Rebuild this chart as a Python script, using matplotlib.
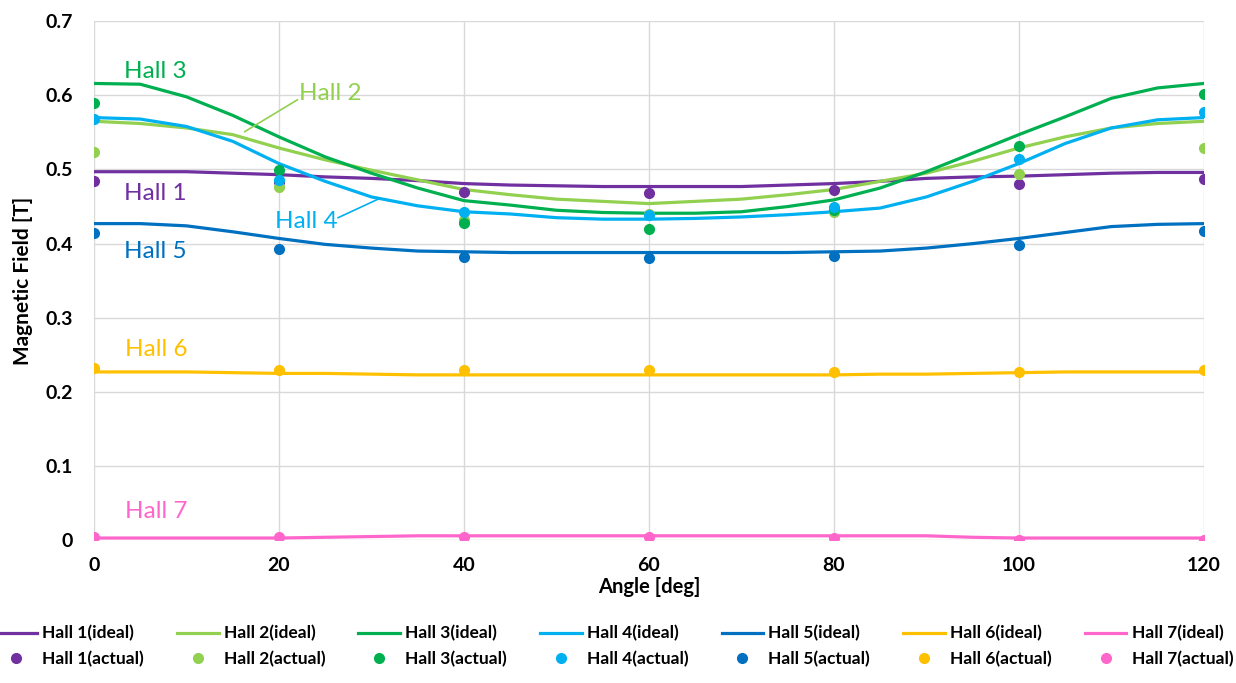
import numpy as np
import matplotlib.pyplot as plt

plt.rcParams['font.family'] = ['Lato', 'DejaVu Sans']

# Angle grids
angle_ideal = [0, 5, 10, 15, 20, 25, 30, 35, 40, 45, 50, 55, 60,
               65, 70, 75, 80, 85, 90, 95, 100, 105, 110, 115, 120]
angle_actual = [0, 20, 40, 60, 80, 100, 120]

# Ideal curves
hall1_ideal = [0.497, 0.497, 0.497, 0.495, 0.493, 0.490, 0.488, 0.485, 0.481, 0.479, 0.478, 0.477, 0.477,
               0.477, 0.477, 0.479, 0.481, 0.484, 0.488, 0.490, 0.491, 0.493, 0.495, 0.496, 0.496]
hall2_ideal = [0.565, 0.562, 0.556, 0.547, 0.529, 0.513, 0.499, 0.486, 0.473, 0.466, 0.460, 0.457, 0.454,
               0.457, 0.460, 0.466, 0.473, 0.484, 0.495, 0.511, 0.529, 0.544, 0.556, 0.562, 0.565]
hall3_ideal = [0.616, 0.615, 0.598, 0.573, 0.544, 0.517, 0.495, 0.475, 0.458, 0.452, 0.445, 0.442, 0.441,
               0.441, 0.443, 0.450, 0.459, 0.475, 0.497, 0.522, 0.547, 0.571, 0.596, 0.610, 0.616]
hall4_ideal = [0.570, 0.568, 0.558, 0.538, 0.508, 0.484, 0.463, 0.451, 0.443, 0.440, 0.435, 0.433, 0.433,
               0.434, 0.436, 0.439, 0.443, 0.448, 0.463, 0.484, 0.508, 0.535, 0.556, 0.567, 0.570]
hall5_ideal = [0.427, 0.427, 0.424, 0.416, 0.407, 0.399, 0.394, 0.390, 0.389, 0.388, 0.388, 0.388, 0.388,
               0.388, 0.388, 0.388, 0.389, 0.390, 0.394, 0.400, 0.407, 0.415, 0.423, 0.426, 0.427]
hall6_ideal = [0.227, 0.227, 0.227, 0.226, 0.225, 0.225, 0.224, 0.223, 0.223, 0.223, 0.223, 0.223, 0.223,
               0.223, 0.223, 0.223, 0.223, 0.224, 0.224, 0.225, 0.226, 0.227, 0.227, 0.227, 0.227]
hall7_ideal = [0.003, 0.003, 0.003, 0.003, 0.003, 0.004, 0.005, 0.006, 0.006, 0.006, 0.006, 0.006, 0.006,
               0.006, 0.006, 0.006, 0.006, 0.006, 0.006, 0.004, 0.003, 0.003, 0.003, 0.003, 0.003]

# Measured points
hall1_actual = [0.484, 0.483, 0.470, 0.468, 0.473, 0.481, 0.487]
hall2_actual = [0.523, 0.476, 0.432, 0.440, 0.443, 0.494, 0.529]
hall3_actual = [0.590, 0.499, 0.428, 0.420, 0.446, 0.532, 0.602]
hall4_actual = [0.568, 0.486, 0.443, 0.439, 0.450, 0.514, 0.577]
hall5_actual = [0.415, 0.393, 0.382, 0.381, 0.383, 0.398, 0.417]
hall6_actual = [0.232, 0.230, 0.229, 0.229, 0.227, 0.227, 0.229]
hall7_actual = [0.004, 0.004, 0.005, 0.005, 0.003, 0.000, 0.000]

names = ['Hall 1', 'Hall 2', 'Hall 3', 'Hall 4', 'Hall 5', 'Hall 6', 'Hall 7']
colors = ['#7030A0', '#92D050', '#00B050', '#00B0F0', '#0070C0', '#FFC000', '#FF66CC']
ideals = [hall1_ideal, hall2_ideal, hall3_ideal, hall4_ideal, hall5_ideal, hall6_ideal, hall7_ideal]
actuals = [hall1_actual, hall2_actual, hall3_actual, hall4_actual, hall5_actual, hall6_actual, hall7_actual]

fig = plt.figure(figsize=(12.36, 6.83), dpi=100)
ax = fig.add_axes([0.076, 0.209, 0.898, 0.760])

handles = []
for name, c, yi, ya in zip(names, colors, ideals, actuals):
    h1, = ax.plot(angle_ideal, yi, color=c, lw=2.3, label=f'{name}(ideal)', zorder=3,
                  solid_joinstyle='round')
    h2, = ax.plot(angle_actual, ya, 'o', color=c, ms=7, label=f'{name}(actual)', zorder=4)
    handles += [h1, h2]

ax.set_xlim(0, 120)
ax.set_ylim(0, 0.7)
ax.set_xticks(np.arange(0, 121, 20))
ax.set_yticks(np.arange(0, 0.71, 0.1))
ax.set_yticklabels(['0', '0.1', '0.2', '0.3', '0.4', '0.5', '0.6', '0.7'])
ax.grid(color='#D9D9D9', lw=1)
ax.set_axisbelow(True)
for s in ax.spines.values():
    s.set_visible(False)
ax.tick_params(length=0, labelsize=14)
ax.tick_params(axis='x', pad=12)
ax.tick_params(axis='y', pad=15)
for lab in ax.get_xticklabels() + ax.get_yticklabels():
    lab.set_fontweight('bold')

ax.set_xlabel('Angle [deg]', fontsize=14.5, fontweight='bold', labelpad=2)
ax.set_ylabel('Magnetic Field [T]', fontsize=15, fontweight='bold', labelpad=9)

# In-plot labels
lab_kw = dict(fontsize=17.5, va='center', ha='left')
ax.text(3.2, 0.632, 'Hall 3', color=colors[2], **lab_kw)
ax.text(22.2, 0.602, 'Hall 2', color=colors[1], **lab_kw)
ax.text(3.2, 0.468, 'Hall 1', color=colors[0], **lab_kw)
ax.text(19.6, 0.430, 'Hall 4', color=colors[3], **lab_kw)
ax.text(3.2, 0.390, 'Hall 5', color=colors[4], **lab_kw)
ax.text(3.4, 0.257, 'Hall 6', color=colors[5], **lab_kw)
ax.text(3.4, 0.039, 'Hall 7', color=colors[6], **lab_kw)
ax.plot([16.3, 22.0], [0.551, 0.594], color=colors[1], lw=1.2, zorder=5)
ax.plot([26.4, 30.9], [0.435, 0.461], color=colors[3], lw=1.2, zorder=5)

leg = fig.legend(handles=handles, ncol=7, loc='lower center', bbox_to_anchor=(0.497, 0.005),
                 frameon=False, fontsize=12.5, handlelength=2.4, handletextpad=0.3,
                 columnspacing=1.9, labelspacing=0.55, borderaxespad=0.3)
for t in leg.get_texts():
    t.set_fontweight('bold')

fig.savefig('out.png', dpi=100)
